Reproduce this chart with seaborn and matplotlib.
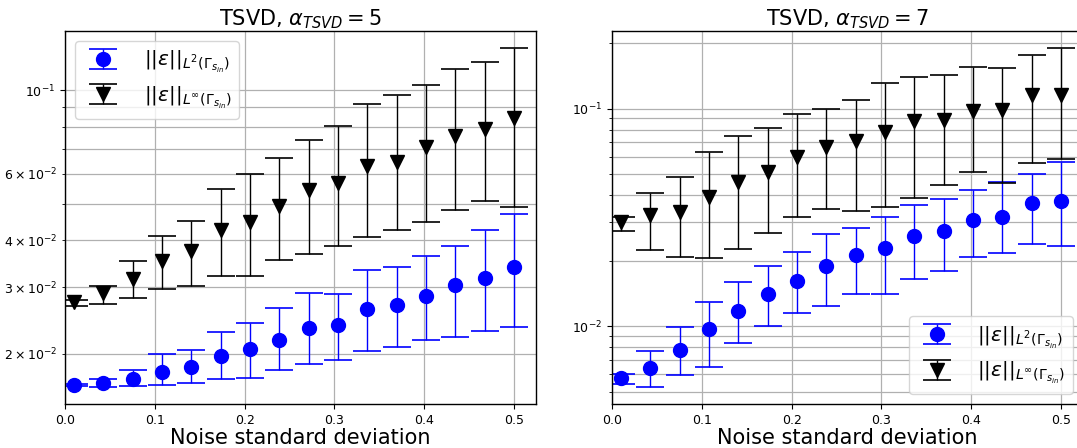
import numpy as np
import pandas as pd
import matplotlib
matplotlib.use("Agg")
import matplotlib.pyplot as plt
import seaborn as sns

# ---------------- data ----------------
noise_std = [0.01, 0.0427, 0.0753, 0.108, 0.1407, 0.1733, 0.206, 0.2387,
             0.2713, 0.304, 0.3367, 0.3693, 0.402, 0.4347, 0.4673, 0.5]

# alpha_TSVD = 5
l2_a5 = [0.01656, 0.01669, 0.01717, 0.01788, 0.01848, 0.01972, 0.02062, 0.02170,
         0.02338, 0.02391, 0.02625, 0.02691, 0.02842, 0.03040, 0.03178, 0.03405]
l2_a5_hi = [0.01666, 0.01710, 0.01817, 0.01992, 0.02045, 0.02282, 0.02420, 0.02647,
            0.02894, 0.02877, 0.03343, 0.03391, 0.03634, 0.03863, 0.04258, 0.04685]
l2_a5_lo = [0.01640, 0.01633, 0.01640, 0.01656, 0.01676, 0.01714, 0.01724, 0.01814,
            0.01874, 0.01928, 0.02041, 0.02087, 0.02170, 0.02214, 0.02306, 0.02353]
linf_a5 = [0.02751, 0.02894, 0.03152, 0.03526, 0.03754, 0.04258, 0.04480, 0.04940,
           0.05435, 0.05683, 0.06304, 0.06434, 0.07050, 0.07551, 0.07913, 0.08414]
linf_a5_hi = [0.02780, 0.03034, 0.03518, 0.04105, 0.04498, 0.05468, 0.05991, 0.06593,
              0.07373, 0.08027, 0.09163, 0.09701, 0.10290, 0.11410, 0.11890, 0.12940]
linf_a5_lo = [0.02685, 0.02706, 0.02813, 0.02972, 0.03033, 0.03225, 0.03225, 0.03540,
              0.03672, 0.03871, 0.04080, 0.04267, 0.04480, 0.04810, 0.05082, 0.04909]

# alpha_TSVD = 7
l2_a7 = [0.005774, 0.006418, 0.007761, 0.009687, 0.01180, 0.01402, 0.01620, 0.01891,
         0.02125, 0.02279, 0.02605, 0.02737, 0.03085, 0.03162, 0.03678, 0.03744]
l2_a7_hi = [0.006043, 0.007706, 0.009860, 0.01293, 0.01597, 0.01898, 0.02193, 0.02651,
            0.02835, 0.03173, 0.03614, 0.03837, 0.04234, 0.04576, 0.04998, 0.05653]
l2_a7_lo = [0.005420, 0.005250, 0.005960, 0.006464, 0.008356, 0.01000, 0.01155, 0.01235,
            0.01407, 0.01407, 0.01655, 0.01800, 0.02073, 0.02162, 0.02377, 0.02344]
linf_a7 = [0.03000, 0.03242, 0.03357, 0.03934, 0.04608, 0.05086, 0.05960, 0.06671,
           0.07085, 0.07816, 0.08747, 0.08840, 0.09723, 0.09861, 0.1159, 0.1159]
linf_a7_hi = [0.03186, 0.04104, 0.04859, 0.06305, 0.07492, 0.08152, 0.09419, 0.1000,
              0.1092, 0.1316, 0.1392, 0.1422, 0.1547, 0.1531, 0.1756, 0.1898]
linf_a7_lo = [0.02747, 0.02239, 0.02088, 0.02066, 0.02263, 0.02670, 0.03162, 0.03453,
              0.03381, 0.03527, 0.03866, 0.04447, 0.05086, 0.04560, 0.05594, 0.05856]

titles = [r"TSVD, $\alpha_{TSVD} = 5$", r"TSVD, $\alpha_{TSVD} = 7$"]
xlabel = "Noise standard deviation"
label_l2 = r"$||\varepsilon||_{L^2(\Gamma_{s_{in}})}$"
label_linf = r"$||\varepsilon||_{L^\infty(\Gamma_{s_{in}})}$"

# ---------------- style ----------------
sns.set_style("ticks")
plt.rcParams.update({
    "font.family": ["DejaVu Sans"],
    "text.color": "black",
    "axes.labelcolor": "black",
    "xtick.color": "black",
    "ytick.color": "black",
    "axes.edgecolor": "black",
    "axes.linewidth": 1.0,
    "grid.color": "#b0b0b0",
    "grid.linewidth": 0.9,
    "xtick.labelsize": 9,
    "ytick.labelsize": 9,
    "mathtext.fontset": "dejavusans",
})

fig = plt.figure(figsize=(10.77, 4.48), dpi=100)
ax1 = fig.add_axes([65 / 1077, 44 / 448, 471 / 1077, 373 / 448])
ax2 = fig.add_axes([612 / 1077, 44 / 448, 471 / 1077, 373 / 448])


def panel(ax, l2, l2_hi, l2_lo, li, li_hi, li_lo, title, loc):
    df = pd.DataFrame({"x": noise_std, "l2": l2, "l2_hi": l2_hi, "l2_lo": l2_lo,
                       "li": li, "li_hi": li_hi, "li_lo": li_lo})
    ax.set_yscale("log")
    ax.errorbar(df["x"], df["l2"],
                yerr=[df["l2"] - df["l2_lo"], df["l2_hi"] - df["l2"]],
                fmt="o", color="blue", ecolor="blue", markersize=10,
                capsize=10, elinewidth=1.0, capthick=1.2, label=label_l2)
    ax.errorbar(df["x"], df["li"],
                yerr=[df["li"] - df["li_lo"], df["li_hi"] - df["li"]],
                fmt="v", color="black", ecolor="black", markersize=10,
                capsize=10, elinewidth=1.0, capthick=1.2, label=label_linf)
    ax.set_xlim(left=0)
    ax.grid(True, which="both")
    ax.set_axisbelow(True)
    ax.set_title(title, fontsize=15, pad=4)
    ax.set_xlabel(xlabel, fontsize=15, labelpad=1)
    ax.legend(loc=loc, fontsize=14.5, handletextpad=1.0, borderpad=0.4,
              labelspacing=0.45, handlelength=2.0)


panel(ax1, l2_a5, l2_a5_hi, l2_a5_lo, linf_a5, linf_a5_hi, linf_a5_lo, titles[0],
      "upper left")
panel(ax2, l2_a7, l2_a7_hi, l2_a7_lo, linf_a7, linf_a7_hi, linf_a7_lo, titles[1],
      "lower right")

fig.savefig("out.png", dpi=100)
